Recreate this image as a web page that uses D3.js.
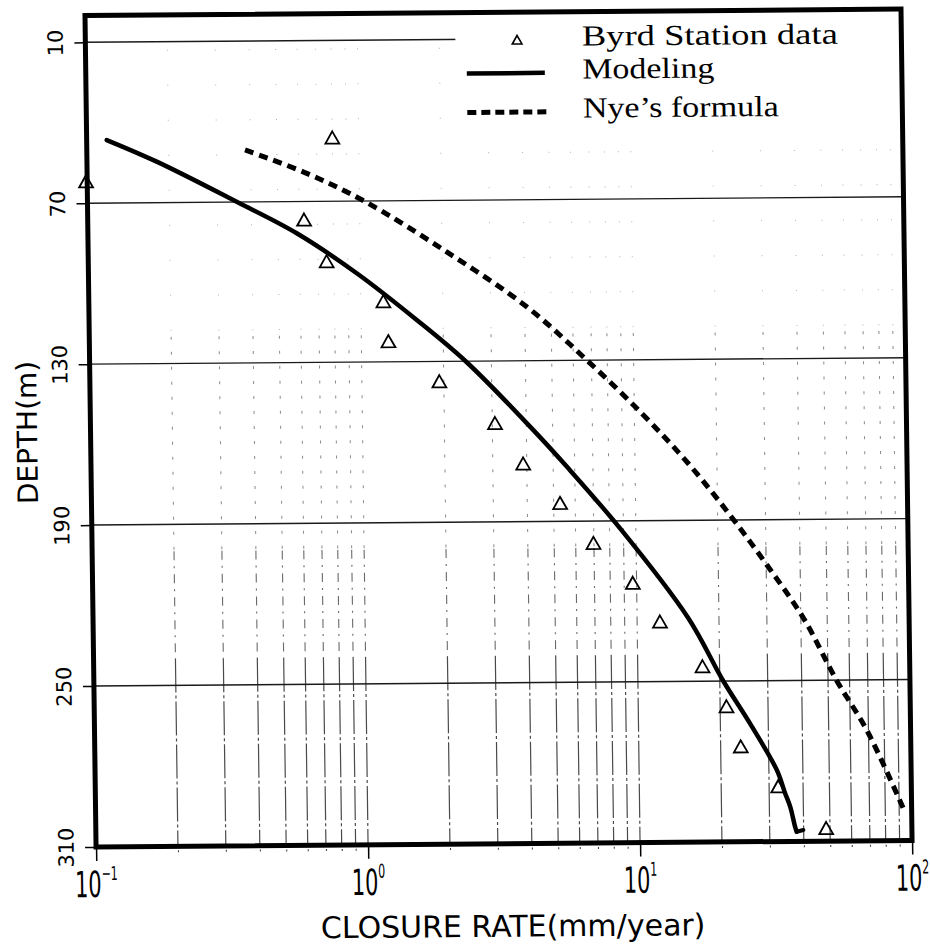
<!DOCTYPE html>
<html>
<head>
<meta charset="utf-8">
<script src="https://cdn.jsdelivr.net/npm/d3@7"></script>
<style>
  html, body { margin: 0; padding: 0; background: #fff; }
  svg { display: block; }
</style>
</head>
<body>
<svg id="chart" width="930" height="947"></svg>
<script>
// Borehole closure rate against depth at Byrd Station

// axis ticks
const depthTicks = [10, 70, 130, 190, 250, 310];
const rateDecades = [0.1, 1, 10, 100];
const decadeExponents = ["\u22121", "0", "1", "2"];

// Byrd Station measurements (triangles)
const byrdRate  = [0.80, 0.099, 0.624, 0.752, 1.21, 1.257, 1.926, 3.07, 3.88, 5.28, 6.97, 9.68, 12.13, 17.3, 21.1, 23.7, 32.4, 48.4];
const byrdDepth = [46.4, 62.0, 76.9, 92.5, 107.6, 122.5, 137.6, 153.3, 168.5, 183.3, 198.3, 213.3, 227.8, 244.6, 259.6, 274.6, 289.6, 305.3];

// modeled closure rate (solid)
const modelRate  = [0.1185, 0.1805, 0.3536, 0.5856, 0.969, 1.602, 2.434, 4.246, 5.61, 8.75, 15.44, 20.6, 25.7, 32.1, 34.3, 35.8, 37.2, 37.7, 39.9];
const modelDepth = [46.5, 54.7, 69.9, 81.8, 96.9, 114.5, 130.4, 155.9, 169.6, 192.8, 226.5, 250.0, 265.9, 283.4, 291.9, 297.1, 304.5, 306.4, 305.8];

// Nye's formula (dashed)
const nyeRate  = [0.3817, 0.642, 1.048, 2.08, 4.07, 6.72, 10.79, 15.7, 22.2, 30.2, 40.9, 53.9, 69.0, 93.1];
const nyeDepth = [50.6, 59.5, 70.2, 89.2, 109.9, 129.9, 150.6, 168.8, 188.1, 206.9, 226.8, 250.3, 268.7, 297.9];

const legendLabels = ["Byrd Station data", "Modeling", "Nye\u2019s formula"];

// ---------------------------------------------------------------
const svg = d3.select("#chart");
const ink = "#000";

const x = d3.scaleLog().domain([0.1, 100]).range([85, 901]);
const y = d3.scaleLinear().domain([0, 310]).range([15.5, 846.9]);

// the whole sheet sits slightly askew
const root = svg.append("g")
  .attr("transform", "matrix(1,-0.0079,0.0133,1,-0.21,0.67)");

// vertical log grid, printed lighter towards the top
const gridRates = x.ticks().filter(v => v > 0.1001 && v < 99.9);
const gridBands = [
  { from: 0,   to: 120, dash: "1,34",     color: "#b0b0b0", w: 1.0 },
  { from: 120, to: 200, dash: "3,12",     color: "#8a8a8a", w: 1.0 },
  { from: 200, to: 240, dash: "9,6,2,6",  color: "#6a6a6a", w: 1.1 },
  { from: 240, to: 310, dash: "34,3,3,3", color: "#4a4a4a", w: 1.2 }
];
gridBands.forEach(b => {
  root.append("g")
    .selectAll("line")
    .data(gridRates)
    .join("line")
    .attr("x1", d => x(d)).attr("x2", d => x(d))
    .attr("y1", y(b.from)).attr("y2", y(b.to))
    .attr("stroke", b.color)
    .attr("stroke-width", b.w)
    .attr("stroke-dasharray", b.dash);
});

// horizontal depth grid
root.append("g")
  .selectAll("line")
  .data(depthTicks.filter(d => d < 310))
  .join("line")
  .attr("x1", x(0.1)).attr("x2", x(100))
  .attr("y1", d => y(d)).attr("y2", d => y(d))
  .attr("stroke", "#1a1a1a")
  .attr("stroke-width", 1.4);

// legend panel (blank background over the grid)
root.append("rect")
  .attr("x", 455).attr("y", 18)
  .attr("width", 444).attr("height", 110)
  .attr("fill", "#fff");

// curves
const pts = (r, d) => r.map((v, i) => [v, d[i]]);
const smooth = d3.line().x(p => x(p[0])).y(p => y(p[1])).curve(d3.curveCatmullRom.alpha(0.5));
const straight = d3.line().x(p => x(p[0])).y(p => y(p[1]));

const model = pts(modelRate, modelDepth);
root.append("path")
  .attr("d", smooth(model.slice(0, model.length - 1)))
  .attr("fill", "none").attr("stroke", ink)
  .attr("stroke-width", 4.5).attr("stroke-linejoin", "round").attr("stroke-linecap", "round");
root.append("path")
  .attr("d", straight(model.slice(model.length - 2)))
  .attr("fill", "none").attr("stroke", ink)
  .attr("stroke-width", 4).attr("stroke-linecap", "round");

root.append("path")
  .attr("d", smooth(pts(nyeRate, nyeDepth)))
  .attr("fill", "none").attr("stroke", ink)
  .attr("stroke-width", 5).attr("stroke-dasharray", "9,6");

// triangles
const tri = s => `M0,${-s}L${s * 1.05},${s * 0.85}L${-s * 1.05},${s * 0.85}Z`;
root.append("g")
  .selectAll("path")
  .data(pts(byrdRate, byrdDepth))
  .join("path")
  .attr("transform", p => `translate(${x(p[0])},${y(p[1])})`)
  .attr("d", tri(6.6))
  .attr("fill", "none").attr("stroke", ink).attr("stroke-width", 1.8)
  .attr("stroke-linejoin", "miter");

// bottom axis: decade ticks and minor ticks
const bottom = root.append("g").attr("transform", `translate(0,${y(310)})`);
bottom.append("g")
  .call(d3.axisBottom(x).tickValues(gridRates).tickSize(8).tickFormat(""))
  .call(g => g.select(".domain").remove())
  .call(g => g.selectAll("line").attr("stroke", "#444").attr("stroke-width", 1.1).attr("stroke-dasharray", "2,2"));
bottom.append("g")
  .call(d3.axisBottom(x).tickValues(rateDecades).tickSize(14).tickFormat(""))
  .call(g => g.select(".domain").remove())
  .call(g => g.selectAll("line").attr("stroke", ink).attr("stroke-width", 1.5));

const xLabels = root.append("g")
  .attr("font-family", "'DejaVu Sans', sans-serif")
  .attr("fill", ink)
  .selectAll("text")
  .data(rateDecades)
  .join("text")
  .attr("transform", d => `translate(${x(d)},897) scale(0.58,1)`)
  .attr("text-anchor", "middle")
  .attr("font-size", 36);
xLabels.append("tspan").text("10");
xLabels.append("tspan")
  .attr("dy", -17)
  .attr("font-size", 19)
  .text((d, i) => decadeExponents[i]);

// left axis
root.append("g")
  .attr("transform", `translate(${x(0.1)},0)`)
  .call(d3.axisLeft(y).tickValues(depthTicks).tickSize(11).tickFormat(d3.format("d")))
  .call(g => g.select(".domain").remove())
  .call(g => g.selectAll("line").attr("stroke", ink).attr("stroke-width", 1.5))
  .call(g => g.selectAll("text")
    .attr("x", 0).attr("dy", 0)
    .attr("transform", "translate(-22.5,0) rotate(-90)")
    .attr("text-anchor", "middle")
    .attr("font-family", "'DejaVu Sans', sans-serif")
    .attr("font-size", 21)
    .attr("fill", ink));

// axis titles
root.append("text")
  .attr("transform", "translate(31.5,432) rotate(-90)")
  .attr("text-anchor", "middle")
  .attr("font-family", "'DejaVu Sans', sans-serif")
  .attr("font-size", 28)
  .attr("fill", ink)
  .text("DEPTH(m)");

root.append("text")
  .attr("transform", "translate(501,940)")
  .attr("text-anchor", "middle")
  .attr("font-family", "'DejaVu Sans', sans-serif")
  .attr("font-size", 30)
  .attr("fill", ink)
  .text("CLOSURE RATE(mm/year)");

// plot frame
root.append("rect")
  .attr("x", x(0.1)).attr("y", y(0))
  .attr("width", x(100) - x(0.1)).attr("height", y(310) - y(0))
  .attr("fill", "none").attr("stroke", ink).attr("stroke-width", 5);

// legend
const legendRowY = [43.5, 76.5, 115.5];
const legendTextLen = [256, 132, 196];
const legend = root.append("g");
legend.append("path")
  .attr("transform", `translate(516.7,${legendRowY[0]})`)
  .attr("d", tri(4.6))
  .attr("fill", "none").attr("stroke", ink).attr("stroke-width", 1.6);
legend.append("line")
  .attr("x1", 466).attr("x2", 544)
  .attr("y1", legendRowY[1]).attr("y2", legendRowY[1])
  .attr("stroke", ink).attr("stroke-width", 4.5);
legend.append("line")
  .attr("x1", 466).attr("x2", 546)
  .attr("y1", legendRowY[2]).attr("y2", legendRowY[2])
  .attr("stroke", ink).attr("stroke-width", 5).attr("stroke-dasharray", "9,5");
legend.selectAll("text")
  .data(legendLabels)
  .join("text")
  .attr("x", 581.5)
  .attr("y", (d, i) => legendRowY[i] + 6)
  .attr("font-family", "'Liberation Serif', serif")
  .attr("font-size", 29)
  .attr("fill", ink)
  .attr("textLength", (d, i) => legendTextLen[i])
  .attr("lengthAdjust", "spacingAndGlyphs")
  .text(d => d);
</script>
</body>
</html>
